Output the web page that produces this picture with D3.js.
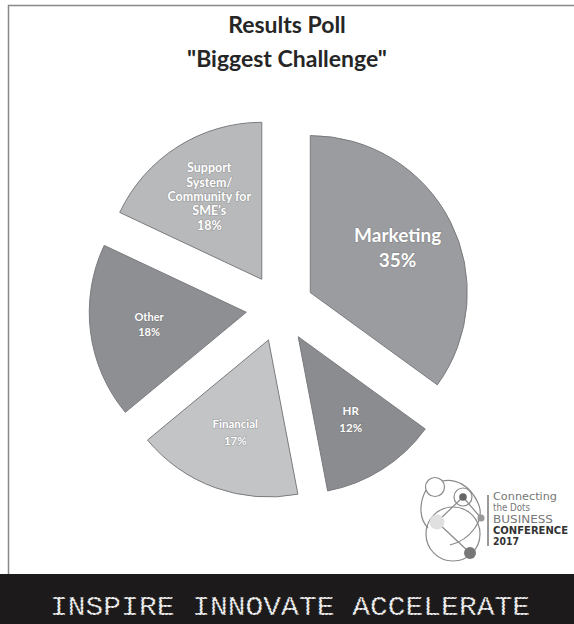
<!DOCTYPE html>
<html>
<head>
<meta charset="utf-8">
<script src="https://cdn.jsdelivr.net/npm/d3@7"></script>
<style>
  html, body { margin: 0; padding: 0; background: #fff; }
  svg { display: block; }
</style>
</head>
<body>
<div id="chart"></div>
<script>
// poll results
const categories = ["Marketing", "HR", "Financial", "Other", "Support System/ Community for SME's"];
const labelLines = [["Marketing"], ["HR"], ["Financial"], ["Other"], ["Support", "System/", "Community for", "SME's"]];
const values = [35, 12, 17, 18, 18];
const titleLines = ["Results Poll", "\"Biggest Challenge\""];
const bannerWords = ["INSPIRE", "INNOVATE", "ACCELERATE"];
const logoLines = ["Connecting", "the Dots", "BUSINESS", "CONFERENCE", "2017"];

const colors = ["#9b9c9f", "#8b8c8f", "#c3c4c6", "#8e8f92", "#b8b9bb"];
const labelSize = [19, 11.5, 11.5, 11, 12.5];
const logoWidths = [64, 37, 60, 75, 26];

const W = 574, H = 624;
const cx = 280, cy = 308, radius = 157, explode = 34;

const svg = d3.select("#chart").append("svg")
  .attr("width", W).attr("height", H);

svg.append("rect").attr("width", W).attr("height", H).attr("fill", "#fff");

// frame
svg.append("path")
  .attr("d", `M8.5,${574} V5.5 H${W}`)
  .attr("fill", "none").attr("stroke", "#888").attr("stroke-width", 1.5);

// title
svg.append("g").selectAll("text").data(titleLines).enter().append("text")
  .attr("x", 287)
  .attr("y", (d, i) => 33 + i * 34)
  .attr("text-anchor", "middle")
  .attr("font-family", "Lato, 'Open Sans', sans-serif")
  .attr("font-weight", 700)
  .attr("font-size", 23)
  .attr("fill", "#262626")
  .text(d => d);

// pie
const pie = d3.pie().sort(null).value(d => d);
const arcs = pie(values);
const arc = d3.arc().innerRadius(0).outerRadius(radius);
const labelArc = d3.arc().innerRadius(98).outerRadius(98);

const g = svg.append("g").attr("transform", `translate(${cx},${cy})`);

const slice = g.selectAll("g.slice").data(arcs).enter().append("g")
  .attr("class", "slice")
  .attr("transform", d => {
    const a = (d.startAngle + d.endAngle) / 2;
    return `translate(${explode * Math.sin(a)},${-explode * Math.cos(a)})`;
  });

slice.append("path")
  .attr("d", arc)
  .attr("fill", (d, i) => colors[i])
  .attr("stroke", "#7a7b7e")
  .attr("stroke-width", 1);

slice.each(function (d, i) {
  const [lx, ly] = labelArc.centroid(d);
  const lines = labelLines[i].concat([d.value + "%"]);
  const fs = labelSize[i];
  const lh = i === 0 ? fs * 1.32 : (i === 4 ? fs * 1.15 : fs * 1.45);
  const t = d3.select(this).append("text")
    .attr("text-anchor", "middle")
    .attr("font-family", "Lato, 'Open Sans', sans-serif")
    .attr("font-weight", 700)
    .attr("font-size", fs)
    .attr("fill", "#fff")
    .style("paint-order", "stroke")
    .attr("stroke", "rgba(90,90,90,0.35)")
    .attr("stroke-width", 1.2);
  const y0 = ly - (lines.length - 1) * lh / 2 + fs * 0.36;
  t.selectAll("tspan").data(lines).enter().append("tspan")
    .attr("x", lx)
    .attr("y", (s, k) => y0 + k * lh)
    .text(s => s);
});

// logo
const logo = svg.append("g").attr("fill", "none").attr("stroke", "#8a8a8a").attr("stroke-width", 1.2);
logo.append("circle").attr("cx", 453).attr("cy", 534).attr("r", 27);
logo.append("circle").attr("cx", 435).attr("cy", 487).attr("r", 9.5);
logo.append("circle").attr("cx", 463).attr("cy", 497).attr("r", 9);
logo.append("path").attr("d", "M426,490 C418,505 420,520 428,528");
logo.append("path").attr("d", "M442,481 C455,478 470,485 478,503 C486,520 470,540 450,545");
logo.append("line").attr("x1", 437).attr("y1", 522).attr("x2", 463).attr("y2", 497);
logo.append("line").attr("x1", 437).attr("y1", 522).attr("x2", 470).attr("y2", 553);
logo.append("line").attr("x1", 463).attr("y1", 497).attr("x2", 481).attr("y2", 518);
logo.append("circle").attr("cx", 437).attr("cy", 522).attr("r", 7.5).attr("fill", "#e0e0e0").attr("stroke", "none");
logo.append("circle").attr("cx", 463).attr("cy", 497).attr("r", 3.8).attr("fill", "#666").attr("stroke", "none");
logo.append("circle").attr("cx", 481).attr("cy", 518).attr("r", 3.5).attr("fill", "#999").attr("stroke", "none");
logo.append("circle").attr("cx", 470).attr("cy", 553).attr("r", 6).attr("fill", "#777").attr("stroke", "none");
svg.append("line").attr("x1", 488).attr("y1", 495).attr("x2", 488).attr("y2", 546)
  .attr("stroke", "#777").attr("stroke-width", 1.5);
svg.append("g").selectAll("text").data(logoLines).enter().append("text")
  .attr("x", 493)
  .attr("y", (d, i) => 500 + i * 11.3)
  .attr("textLength", (d, i) => logoWidths[i])
  .attr("lengthAdjust", "spacingAndGlyphs")
  .attr("font-family", "'DejaVu Sans', sans-serif")
  .attr("font-weight", (d, i) => i >= 3 ? 700 : 400)
  .attr("font-size", 10.5)
  .attr("fill", (d, i) => i >= 3 ? "#333" : "#777")
  .text(d => d);

// bottom banner
svg.append("rect").attr("x", 0).attr("y", 574).attr("width", W).attr("height", H - 574).attr("fill", "#1c1a1a");
svg.append("text")
  .attr("x", 50).attr("y", 615)
  .attr("textLength", 480).attr("lengthAdjust", "spacingAndGlyphs")
  .attr("font-family", "'Liberation Mono', 'DejaVu Sans Mono', monospace")
  .attr("font-size", 28)
  .attr("fill", "#eee")
  .attr("stroke", "#1c1a1a").attr("stroke-width", 0.8).attr("stroke-dasharray", "1.5 2")
  .text(bannerWords.join(" "));
</script>
</body>
</html>
